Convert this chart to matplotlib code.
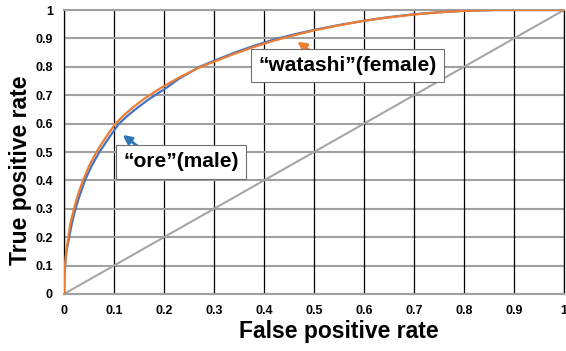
import numpy as np
import matplotlib.pyplot as plt

plt.rcParams['font.family'] = ['Liberation Sans', 'DejaVu Sans']
plt.rcParams['font.weight'] = 'bold'

# ROC curves
fpr_ore = [0, 0.0004, 0.0025, 0.005, 0.0105, 0.016, 0.023, 0.032, 0.042, 0.055, 0.071,
           0.09, 0.11, 0.13, 0.15, 0.17, 0.19, 0.2, 0.23, 0.27, 0.3, 0.34, 0.38,
           0.42, 0.46, 0.5, 0.55, 0.6, 0.65, 0.7, 0.75, 0.8, 0.86, 1.0]
tpr_ore = [0, 0.05, 0.1, 0.15, 0.2, 0.25, 0.3, 0.35, 0.4, 0.45, 0.5,
           0.55, 0.6, 0.632, 0.66, 0.686, 0.709, 0.72, 0.758, 0.799, 0.821, 0.849, 0.874,
           0.896, 0.914, 0.93, 0.947, 0.962, 0.975, 0.985, 0.992, 0.997, 1.0, 1.0]
fpr_watashi = [0, 0.0003, 0.002, 0.004, 0.0087, 0.013, 0.02, 0.028, 0.038, 0.05, 0.065,
               0.083, 0.103, 0.12, 0.14, 0.16, 0.18, 0.2, 0.23, 0.27, 0.3, 0.34, 0.38,
               0.42, 0.46, 0.5, 0.55, 0.6, 0.65, 0.7, 0.75, 0.8, 0.86, 1.0]
tpr_watashi = [0, 0.05, 0.1, 0.14, 0.2, 0.25, 0.3, 0.35, 0.4, 0.45, 0.5,
               0.55, 0.6, 0.63, 0.66, 0.687, 0.71, 0.732, 0.762, 0.797, 0.818, 0.845, 0.87,
               0.892, 0.911, 0.928, 0.946, 0.962, 0.974, 0.984, 0.992, 0.997, 1.0, 1.0]
diag = [0, 1]
ticks = np.round(np.arange(0, 1.01, 0.1), 1)
tick_labels = ['0', '0.1', '0.2', '0.3', '0.4', '0.5', '0.6', '0.7', '0.8', '0.9', '1']

fig = plt.figure(figsize=(5.66, 3.51), dpi=100)
ax = fig.add_axes([0.113, 0.1624, 0.8835, 0.8091])

for t in ticks:
    ax.axhline(t, color='#a0a0a0', lw=1.5, zorder=1)
    ax.axvline(t, color='black', lw=0.9, zorder=1)

ax.plot(diag, diag, color='#a6a6a6', lw=1.5, zorder=2)
ax.plot(fpr_ore, tpr_ore, color='#4472C4', lw=1.6, zorder=3)
ax.plot(fpr_watashi, tpr_watashi, color='#ED7D31', lw=1.6, zorder=4)

ax.set_xlim(0, 1)
ax.set_ylim(0, 1)
ax.set_xticks(ticks)
ax.set_yticks(ticks)
ax.set_xticklabels(tick_labels)
ax.set_yticklabels(tick_labels)
ax.tick_params(length=0, labelsize=9, pad=8)
for s in ['top', 'bottom']:
    ax.spines[s].set_color('#a0a0a0')
    ax.spines[s].set_linewidth(1.5)
for s in ['left', 'right']:
    ax.spines[s].set_color('black')
    ax.spines[s].set_linewidth(0.9)

ax.set_xlabel('False positive rate', fontsize=16.5, fontweight='bold')
ax.set_ylabel('True positive rate', fontsize=16.5, fontweight='bold')
ax.xaxis.set_label_coords(0.55, -0.09)
ax.yaxis.set_label_coords(-0.063, 0.437)

box = dict(boxstyle='square,pad=0.35', fc='white', ec='#6f6f6f', lw=0.8)
ax.text(0.567, 0.805, '\u201cwatashi\u201d(female)', fontsize=15, fontweight='bold',
        ha='center', va='center', bbox=box, zorder=6)
ax.annotate('', xy=(0.462, 0.894), xytext=(0.509, 0.836),
            arrowprops=dict(arrowstyle='-|>', color='#ED7D31', lw=2, mutation_scale=13), zorder=5)
ax.text(0.234, 0.465, '\u201core\u201d(male)', fontsize=15, fontweight='bold',
        ha='center', va='center', bbox=box, zorder=6)
ax.annotate('', xy=(0.113, 0.566), xytext=(0.162, 0.501),
            arrowprops=dict(arrowstyle='-|>', color='#2E75B6', lw=2, mutation_scale=13), zorder=5)

fig.savefig('out.png', dpi=100)
